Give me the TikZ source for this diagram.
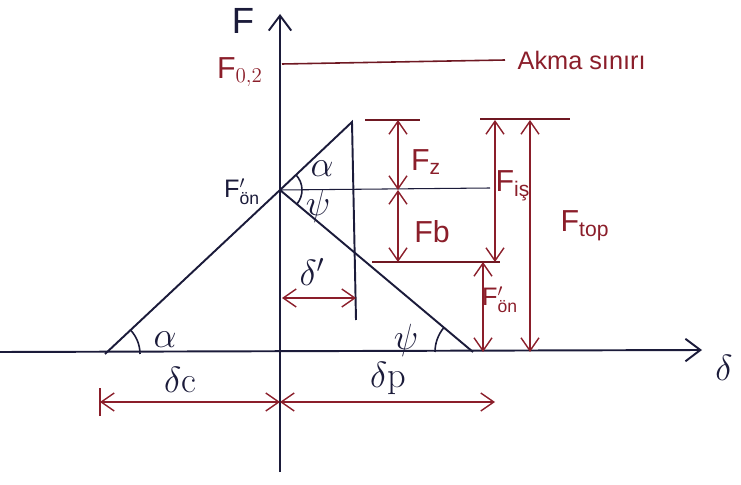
\documentclass[tikz,border=0pt]{standalone}
\usepackage{fontspec}
\setsansfont{Liberation Sans}
\usepackage{amsmath}
\usetikzlibrary{
  arrows.meta,
  positioning,
  calc,
}
\definecolor{axisCol}{HTML}{1B1B3A}
\definecolor{dimCol}{HTML}{8B1E2A}
\tikzset{
  axisline/.style={
    line width=1.1pt, draw=axisCol,
  },
  axisarrow/.style={
    axisline, -{Straight Barb[length=3mm,width=4.5mm]},
  },
  boltline/.style={
    line width=1.1pt, draw=axisCol,
  },
  thinline/.style={
    line width=0.6pt, draw=axisCol,
  },
  refline/.style={
    line width=0.9pt, draw=dimCol!80!black,
  },
  dimarrow/.style={
    {Straight Barb[length=2.6mm,width=3.6mm]}-{Straight Barb[length=2.6mm,width=3.6mm]},
    line width=0.8pt, draw=dimCol,
  },
  anglearc/.style={
    line width=0.9pt, draw=axisCol,
  },
  lbl/.style={
    font=\LARGE\sffamily, text=dimCol, inner sep=1pt,
  },
  darklbl/.style={
    font=\LARGE\sffamily, text=axisCol, inner sep=1pt,
  },
  anglbl/.style={
    font=\huge, text=axisCol, inner sep=1pt,
  },
}

\begin{document}
\begin{tikzpicture}[x=0.02cm, y=0.02cm]
\useasboundingbox (0,0) rectangle (741,484);

% main points
\coordinate (orig)  at (280,132);
\coordinate (fTop)  at (280,470);
\coordinate (fBot)  at (280,12);
\coordinate (dLeft) at (0,132);
\coordinate (dRight) at (702,134);
\coordinate (boltA) at (105,130);
\coordinate (fon)   at (280,294);
\coordinate (boltT) at (352,362);
\coordinate (boltV) at (356,164);
\coordinate (memM)  at (473,132);

% axes
\draw[axisarrow] (fBot) -- (fTop);
\draw[axisarrow] (dLeft) -- (dRight);
\node[darklbl, font=\huge\sffamily] (fLab) at (243,463) {F};
\node[anglbl] (dLab) at (724,116) {$\delta$};

% yield limit
\coordinate (yA) at (282,420);
\coordinate (yB) at (505,424);
\draw[refline] (yA) -- (yB);
\node[lbl, right=6pt of yB, font=\Large\sffamily] (akma) {Akma s\i n\i r\i};
\node[lbl] (f02) at (240,412) {F$_{0,2}$};

% bolt and member lines
\draw[boltline] (boltA) -- (fon) -- (boltT) -- (boltV);
\draw[boltline] (fon) -- (memM);
\node[darklbl, font=\Large\sffamily] (fonLab) at (242,292) {F$'_{\text{ön}}$};

% reference lines
\coordinate (topL1) at (365,364);
\coordinate (topL2) at (420,364);
\coordinate (topR1) at (480,365);
\coordinate (topR2) at (570,365);
\coordinate (midR)  at (490,296);
\coordinate (lowL)  at (372,222);
\coordinate (lowR)  at (500,222);
\draw[thinline] (fon) -- (midR);
\draw[refline] (topL1) -- (topL2);
\draw[refline] (topR1) -- (topR2);
\draw[refline] (lowL) -- (lowR);

% force arrows
\draw[dimarrow] (398,364) -- (398,294);
\draw[dimarrow] (398,294) -- (398,222);
\draw[dimarrow] (495,364) -- (495,222);
\draw[dimarrow] (483,222) -- (483,132);
\draw[dimarrow] (530,364) -- (530,132);
\node[lbl] (fz)   at (426,322) {F$_{\text{z}}$};
\node[lbl] (fb)   at (432,252) {Fb};
\node[lbl] (fis)  at (513,298) {F$_{\text{iş}}$};
\node[lbl] (ftop) at (585,258) {F$_{\text{top}}$};
\node[lbl, font=\Large\sffamily] (fon2) at (500,184) {F$'_{\text{ön}}$};

% displacements
\coordinate (dcTick) at (100,82);
\coordinate (dAx)    at (280,82);
\coordinate (dpEnd)  at (495,82);
\draw[dimCol, line width=0.8pt] (100,68) -- (100,96);
\draw[dimarrow] (dcTick) -- (dAx);
\draw[dimarrow] (dAx) -- (dpEnd);
\draw[dimarrow] (282,186) -- (356,186);
\node[anglbl] (dcLab) at (180,104) {$\delta$c};
\node[anglbl] (dpLab) at (388,106) {$\delta$p};
\node[anglbl] (d1Lab) at (312,212) {$\delta'$};

% angles
\draw[anglearc] ($(boltA)+(35,0)$) arc[start angle=0, end angle=43, radius=35];
\draw[anglearc] ($(fon)+(-40:22)$) arc[start angle=-40, end angle=43, radius=22];
\draw[anglearc] ($(memM)+(140:38)$) arc[start angle=140, end angle=180, radius=38];
\node[anglbl] (alA) at (165,144) {$\alpha$};
\node[anglbl] (alT) at (322,315) {$\alpha$};
\node[anglbl] (psT) at (318,278) {$\psi$};
\node[anglbl] (psM) at (406,144) {$\psi$};

\end{tikzpicture}
\end{document}
